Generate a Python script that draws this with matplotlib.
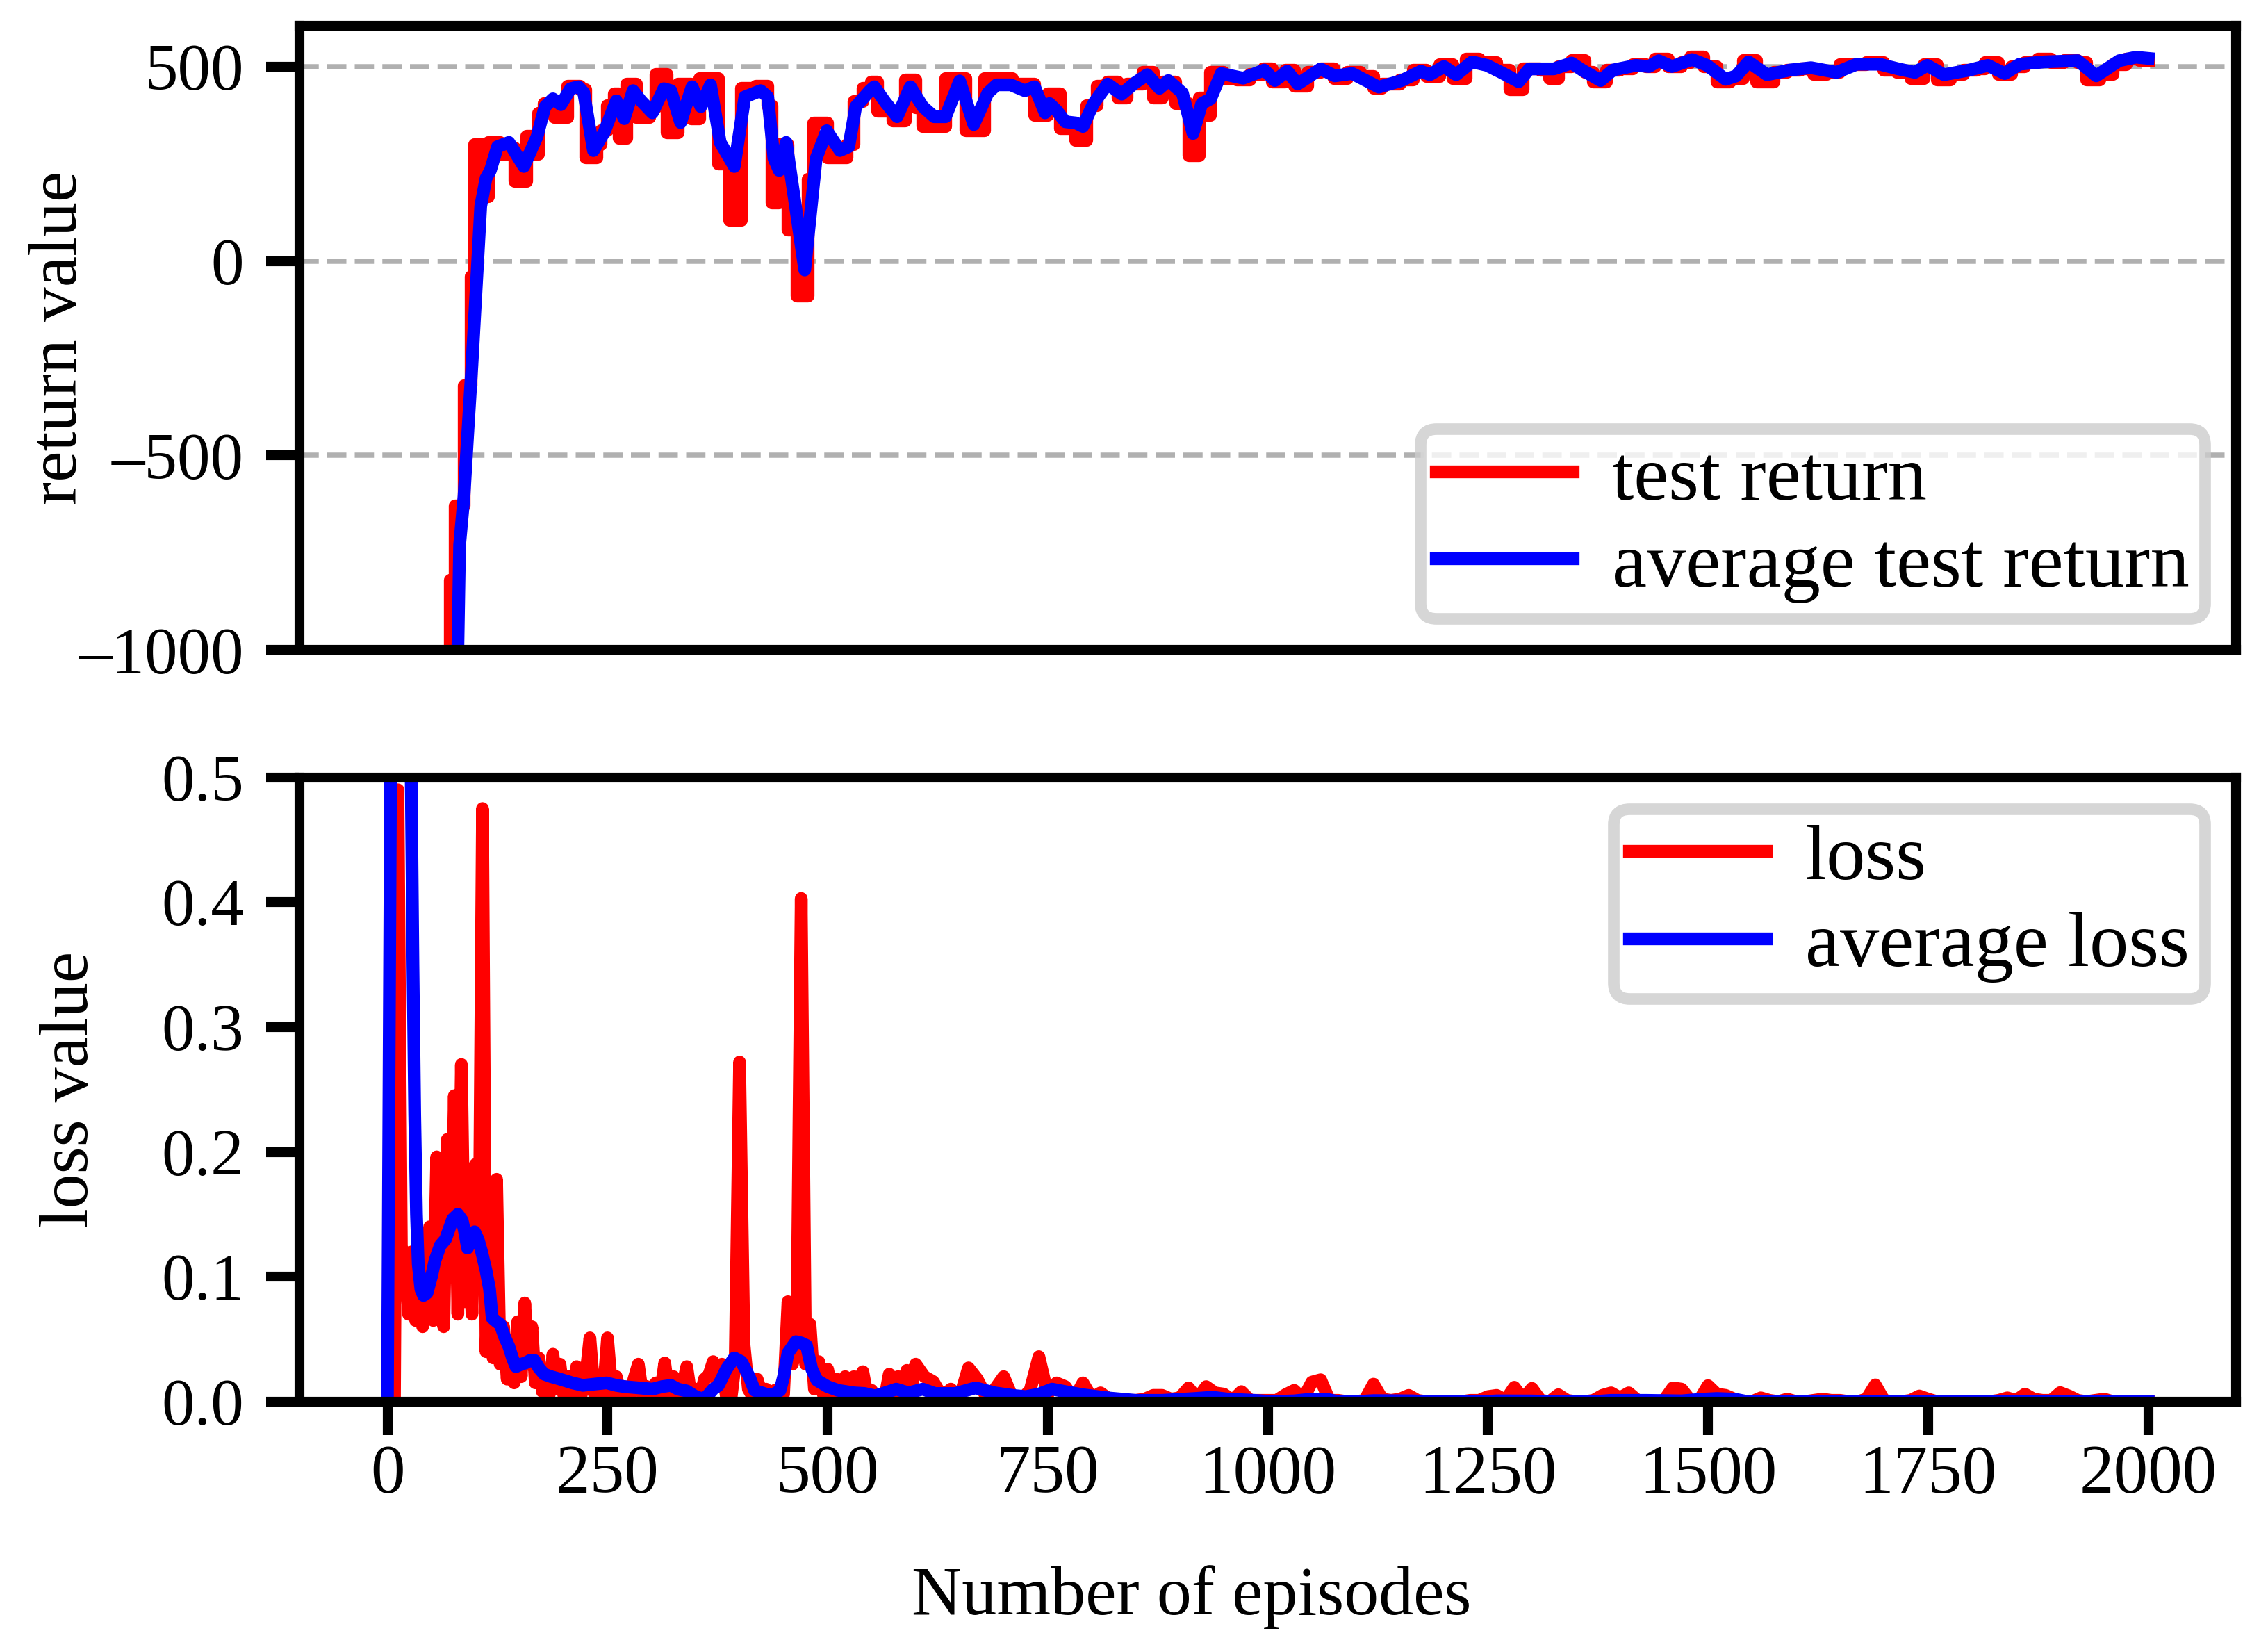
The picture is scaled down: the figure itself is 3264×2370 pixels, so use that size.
import numpy as np
import matplotlib
matplotlib.use('Agg')
import matplotlib.pyplot as plt
from matplotlib.ticker import FuncFormatter

plt.rcParams['font.family'] = 'serif'
plt.rcParams['font.serif'] = ['Liberation Serif', 'DejaVu Serif']

# test return, evaluated as steps (episode where each value starts)
ret_ep = [0, 71, 77, 87, 95, 99, 108, 115, 128, 136, 145, 158, 166, 172, 178, 190,
          205, 219, 225, 238, 243, 250, 258, 263, 272, 283, 298, 305, 318, 330, 345,
          355, 376, 389, 402, 419, 432, 437, 445, 455, 465, 478, 484, 500, 522, 530,
          540, 550, 557, 574, 588, 600, 608, 634, 657, 678, 710, 735, 750, 764, 782,
          794, 806, 818, 830, 840, 858, 870, 880, 895, 910, 922, 928, 935, 950, 965,
          980, 995, 1005, 1020, 1030, 1045, 1060, 1075, 1090, 1105, 1120, 1130, 1150,
          1165, 1180, 1195, 1210, 1225, 1240, 1260, 1275, 1290, 1310, 1320, 1330, 1345,
          1360, 1370, 1385, 1400, 1415, 1430, 1440, 1455, 1470, 1480, 1495, 1510, 1525,
          1540, 1555, 1575, 1590, 1605, 1620, 1635, 1650, 1665, 1680, 1700, 1715, 1730,
          1745, 1760, 1775, 1790, 1805, 1815, 1830, 1845, 1860, 1875, 1890, 1905, 1920,
          1930, 1945, 1960, 1975, 1990, 2000]
ret_val = [-1300, -820, -630, -320, -40, 300, 165, 305, 275, 290, 205, 320, 275, 380, 405, 370,
           450, 440, 265, 300, 335, 400, 430, 315, 455, 370, 395, 480, 330, 455, 365,
           470, 250, 105, 445, 450, 400, 150, 300, 80, -90, 210, 355, 265, 300, 410,
           445, 460, 385, 360, 465, 395, 345, 470, 335, 470, 455, 375, 430, 340, 310,
           400, 450, 460, 420, 455, 485, 420, 460, 405, 270, 420, 375, 485, 470, 465,
           480, 495, 460, 490, 450, 485, 495, 470, 485, 475, 445, 455, 465,
           490, 475, 505, 470, 520, 510, 490, 440, 495, 490, 470, 500, 515,
           485, 460, 490, 495, 505, 500, 520, 500, 510, 525, 500, 460, 470,
           515, 460, 485, 490, 495, 480, 485, 505, 505, 510, 490, 485, 470,
           505, 465, 480, 490, 495, 510, 480, 500, 510, 520, 510, 515, 510,
           465, 480, 505, 520, 515, 515]

# average test return
avg_ep = [70, 80, 82, 87, 91, 96, 101, 106, 112, 117, 125, 138, 155, 170, 179, 188, 197,
          208, 217, 223, 234, 246, 260, 269, 279, 288, 301, 314, 322, 333, 346, 356, 367,
          378, 394, 406, 424, 432, 439, 445, 453, 474, 487, 499, 514, 524, 532, 548, 553,
          566, 579, 594, 608, 621, 634, 650, 666, 682, 692, 708, 724, 735, 747, 752, 760,
          770, 782, 790, 802, 818, 834, 849, 863, 877, 887, 903, 915, 925, 935, 947, 972,
          996, 1008, 1022, 1034, 1060, 1076, 1096, 1126, 1152, 1174, 1184, 1200, 1214,
          1232, 1249, 1265, 1285, 1297, 1325, 1345, 1357, 1378, 1392, 1418, 1433, 1444,
          1459, 1482, 1499, 1520, 1532, 1546, 1567, 1593, 1617, 1646, 1669, 1695, 1716,
          1735, 1749, 1768, 1797, 1818, 1837, 1854, 1882, 1920, 1941, 1967, 1986, 2000]
avg_val = [-1200, -1000, -730, -605, -452, -268, -63, 141, 213, 233, 294, 305, 243, 320, 397, 417, 402,
           443, 448, 433, 284, 330, 412, 366, 438, 412, 381, 443, 438, 356, 448, 397, 453,
           305, 243, 422, 438, 422, 264, 233, 305, -23, 264, 335, 284, 294, 397, 438, 448,
           407, 371, 448, 397, 371, 371, 463, 351, 432, 453, 453, 438, 448, 381, 405, 387,
           358, 355, 346, 405, 455, 429, 458, 479, 444, 464, 432, 328, 405, 417, 482, 470,
           491, 464, 488, 455, 494, 476, 482, 447, 464, 488, 479, 500, 479,
           512, 503, 485, 461, 494, 494, 509, 491, 464, 491, 503, 500, 515,
           500, 518, 503, 467, 476, 512, 479, 491, 497, 485, 506, 506, 494,
           485, 503, 479, 491, 503, 482, 506, 512, 515, 476, 515, 524, 521]

# loss per episode (sampled)
loss_ep = np.concatenate([np.arange(0, 201, 4), np.arange(205, 601, 5), np.arange(610, 2001, 10)])
loss_a = [0.0, 0.0, 0.0, 0.49, 0.11, 0.12, 0.07, 0.12, 0.065, 0.125,
          0.06, 0.09, 0.14, 0.065, 0.196, 0.07, 0.06, 0.21, 0.10, 0.245,
          0.07, 0.27, 0.08, 0.16, 0.07, 0.19, 0.10, 0.475, 0.04, 0.13,
          0.035, 0.178, 0.03, 0.06, 0.018, 0.04, 0.015, 0.064, 0.02, 0.079,
          0.03, 0.06, 0.015, 0.035, 0.008, 0.025, 0.006, 0.038, 0.01, 0.03,
          0.006]
loss_b = [0.02, 0.004, 0.028, 0.005, 0.018, 0.051, 0.006, 0.015, 0.004, 0.051,
          0.008, 0.02, 0.004, 0.012, 0.003, 0.018, 0.03, 0.005, 0.012, 0.003,
          0.015, 0.006, 0.031, 0.004, 0.02, 0.003, 0.012, 0.028, 0.004, 0.01,
          0.002, 0.018, 0.021, 0.032, 0.012, 0.03, 0.004, 0.001, 0.03, 0.272,
          0.046, 0.01, 0.004, 0.018, 0.006, 0.01, 0.003, 0.009, 0.002, 0.006,
          0.08, 0.03, 0.05, 0.403, 0.03, 0.062, 0.01, 0.032, 0.006, 0.026,
          0.008, 0.018, 0.004, 0.02, 0.006, 0.02, 0.003, 0.024, 0.005, 0.009,
          0.002, 0.006, 0.003, 0.022, 0.008, 0.02, 0.004, 0.025, 0.01, 0.03]
loss_c = [0.02, 0.016, 0.004, 0.01, 0.003, 0.027, 0.018, 0.004, 0.01, 0.02,
          0.003, 0.002, 0.009, 0.036, 0.006, 0.015, 0.012, 0.002, 0.015, 0.003,
          0.007, 0.002, 0.001, 0.001, 0.001, 0.002, 0.005, 0.005, 0.002, 0.003,
          0.011, 0.002, 0.012, 0.007, 0.006, 0.001, 0.008, 0.001, 0.001, 0.001,
          0.001, 0.0055, 0.009, 0.002, 0.0156, 0.0175, 0.001, 0.001, 0.0, 0.0,
          0.001, 0.014, 0.002, 0.001, 0.002, 0.005, 0.001, 0.0, 0.0, 0.0,
          0.0, 0.0, 0.001, 0.001, 0.004, 0.005, 0.001, 0.0115, 0.002, 0.0106,
          0.001, 0.0, 0.0055, 0.001, 0.0, 0.0, 0.001, 0.005, 0.007, 0.003,
          0.007, 0.001, 0.0, 0.0, 0.001, 0.011, 0.01, 0.001, 0.001, 0.0128,
          0.006, 0.005, 0.002, 0.0, 0.0, 0.003, 0.001, 0.0, 0.002, 0.0,
          0.0, 0.001, 0.002, 0.001, 0.001, 0.0, 0.0, 0.002, 0.0134, 0.001,
          0.0, 0.0, 0.001, 0.0045, 0.002, 0.0, 0.0, 0.0, 0.0, 0.0,
          0.0, 0.0, 0.001, 0.003, 0.001, 0.006, 0.002, 0.001, 0.001, 0.0072,
          0.0045, 0.001, 0.0, 0.001, 0.002, 0.0, 0.0, 0.0, 0.0, 0.0]
loss_val = loss_a + loss_b + loss_c

# average loss
avg_loss_ep = [0, 5, 24, 27, 29, 31, 33, 35, 38, 41, 45, 50, 54, 60, 66, 74, 80, 85, 88, 91,
               95, 99, 103, 107, 112, 116, 119, 124, 128, 133, 138, 142, 146, 152, 157, 162,
               167, 172, 178, 186, 196, 210, 222, 235, 249, 260, 269, 285, 301, 312, 322, 330,
               340, 350, 359, 364, 370, 376, 385, 394, 402, 411, 417, 430, 438, 446, 450, 455,
               464, 470, 476, 482, 488, 500, 512, 530, 542, 554, 565, 578, 592, 608, 622, 645,
               668, 690, 710, 725, 740, 755, 770, 790, 818, 850, 880, 917, 937, 955, 985, 1005,
               1030, 1050, 1066, 1080, 1100, 1120, 1165, 1180, 1245, 1260, 1300, 1330, 1370,
               1390, 1430, 1470, 1495, 1510, 1530, 1545, 1830, 1850, 1900, 1920, 2000]
avg_loss_val = [0.0, 0.7, 0.7, 0.5, 0.35, 0.23, 0.15, 0.11, 0.09, 0.085, 0.087, 0.1, 0.113, 0.125,
                0.13, 0.146, 0.15, 0.145, 0.135, 0.123, 0.13, 0.136, 0.13, 0.12, 0.105, 0.09, 0.067,
                0.064, 0.062, 0.052, 0.044, 0.035, 0.028, 0.03, 0.031, 0.033, 0.033, 0.027, 0.022,
                0.02, 0.018, 0.015, 0.013, 0.014, 0.015, 0.013, 0.012, 0.011, 0.010, 0.012, 0.013,
                0.01, 0.0085, 0.004, 0.002, 0.005, 0.01, 0.013, 0.026, 0.035, 0.032, 0.020, 0.009,
                0.006, 0.0055, 0.009, 0.02, 0.039, 0.048, 0.047, 0.045, 0.026, 0.017, 0.012, 0.009,
                0.007, 0.0065, 0.0046, 0.007, 0.010, 0.007, 0.010, 0.0065, 0.0065, 0.011, 0.007,
                0.005, 0.004, 0.006, 0.010, 0.008, 0.0055, 0.003, 0.001, 0.001, 0.0025, 0.0035,
                0.002, 0.001, 0.0, 0.0006, 0.002, 0.002, 0.0, 0.0, 0.0008, 0.0006, 0.0, 0.0,
                0.0006, 0.0005, 0.0, 0.0, 0.001, 0.001, 0.0006, 0.002, 0.0025, 0.002, 0.0, 0.0,
                0.0004, 0.0004, 0.0, 0.0]

fig, (ax1, ax2) = plt.subplots(2, 1, sharex=True, figsize=(5.44, 3.95), dpi=600)
fig.subplots_adjust(left=0.132, right=0.986, top=0.9844, bottom=0.149, hspace=0.204)

ax1.plot(ret_ep, ret_val, color='red', lw=2.2, drawstyle='steps-post', label='test return')
ax1.plot(avg_ep, avg_val, color='blue', lw=2.2, label='average test return')
ax1.set_ylim(-1000, 605)
ax1.set_yticks([-1000, -500, 0, 500])
ax1.yaxis.set_major_formatter(FuncFormatter(lambda v, p: f'{v:g}'.replace('-', '\u2013')))
ax1.grid(axis='y', linestyle='--', color='#b0b0b0', lw=0.9)
ax1.set_ylabel('return value', fontsize=12)
ax1.yaxis.set_label_coords(-0.1076, 0.5)
ax1.tick_params(axis='x', bottom=False, labelbottom=False)

ax2.plot(loss_ep, loss_val, color='red', lw=2.2, label='loss')
ax2.plot(avg_loss_ep, avg_loss_val, color='blue', lw=2.2, label='average loss')
ax2.set_ylim(0, 0.5)
ax2.set_yticks([0.0, 0.1, 0.2, 0.3, 0.4, 0.5])
ax2.set_xlim(-100, 2100)
ax2.set_xticks(range(0, 2001, 250))
ax2.set_ylabel('loss value', fontsize=12)
ax2.yaxis.set_label_coords(-0.102, 0.5)
ax2.set_xlabel('Number of episodes', fontsize=12)
ax2.xaxis.set_label_coords(0.4607, -0.262)

for ax in (ax1, ax2):
    for s in ax.spines.values():
        s.set_linewidth(1.7)
    ax.tick_params(direction='out', length=5.8, width=1.7)
    ax.tick_params(axis='y', pad=3.8, labelsize=11.4)
ax2.tick_params(axis='x', pad=1.5, labelsize=11.9)

leg_kw = dict(fontsize=13.5, fancybox=True, edgecolor='0.8', borderpad=0.2,
              labelspacing=0.2, handlelength=1.75, handletextpad=0.5, borderaxespad=0.4)
leg1 = ax1.legend(loc='lower right', **leg_kw)
leg2 = ax2.legend(loc='upper right', **leg_kw)
for leg in (leg1, leg2):
    leg.get_frame().set_linewidth(2)

fig.savefig('out.png', dpi=600)
